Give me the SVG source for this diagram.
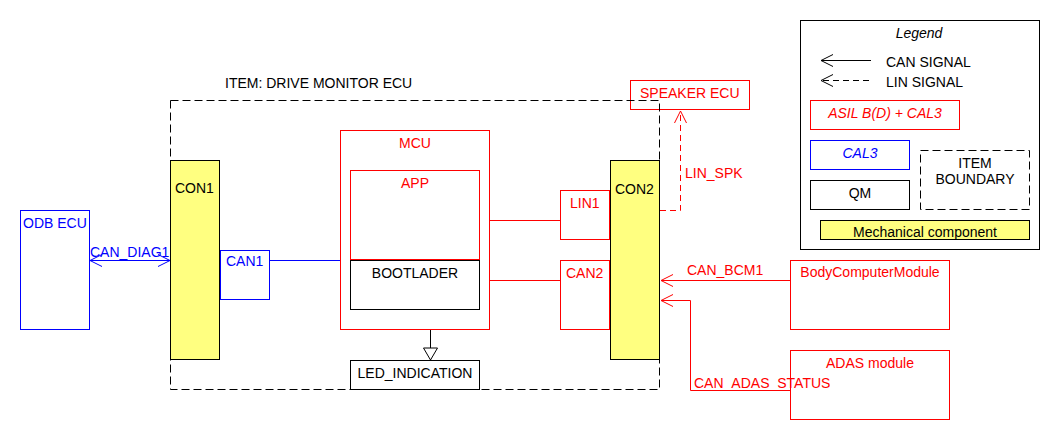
<svg xmlns="http://www.w3.org/2000/svg" width="1060" height="440" viewBox="0 0 1060 440">
<defs>
<style>
text{font-family:"Liberation Sans",Arial,sans-serif;font-size:14px}
.r{fill:#fff;stroke:#f00;stroke-width:1}
.b{fill:#fff;stroke:#00f;stroke-width:1}
.k{fill:#fff;stroke:#000;stroke-width:1}
.y{fill:#ffff80;stroke:#000;stroke-width:1}
.tr{fill:#f00}
.tb{fill:#00f}
.tk{fill:#000}
.c{text-anchor:middle}
.i{font-style:italic}
.bd{fill:none;stroke:#000;stroke-dasharray:8,4}
</style>
<marker id="ar" viewBox="-13 -7 14 14" refX="0" refY="0" markerWidth="14" markerHeight="14" markerUnits="userSpaceOnUse" orient="auto-start-reverse"><path d="M-12,-6 L0,0 L-12,6" fill="none" stroke="#f00" stroke-width="1"/></marker>
<marker id="ab" viewBox="-13 -7 14 14" refX="0" refY="0" markerWidth="14" markerHeight="14" markerUnits="userSpaceOnUse" orient="auto-start-reverse"><path d="M-12,-6 L0,0 L-12,6" fill="none" stroke="#00f" stroke-width="1"/></marker>
<marker id="ak" viewBox="-13 -7 14 14" refX="0" refY="0" markerWidth="14" markerHeight="14" markerUnits="userSpaceOnUse" orient="auto-start-reverse"><path d="M-12,-6 L0,0 L-12,6" fill="none" stroke="#000" stroke-width="1"/></marker>
<marker id="tri" viewBox="-13 -8 14 16" refX="0" refY="0" markerWidth="14" markerHeight="16" markerUnits="userSpaceOnUse" orient="auto"><path d="M0,0 L-12,-7 L-12,7 Z" fill="#fff" stroke="#000" stroke-width="1"/></marker>
</defs>
<rect width="1060" height="440" fill="#fff"/>

<g id="speaker-ecu">
<rect class="r" x="630.5" y="80.5" width="119" height="29"/>
<text class="tr" x="640" y="98">SPEAKER ECU</text>
</g>

<g id="item-boundary">
<rect class="bd" x="170.5" y="100.5" width="489" height="289"/>
<text class="tk" x="225" y="88">ITEM: DRIVE MONITOR ECU</text>
</g>

<g id="odb-ecu">
<rect class="b" x="20.5" y="210.5" width="69" height="119"/>
<text class="tb" x="23" y="228">ODB ECU</text>
</g>

<g id="con1">
<rect class="y" x="170.5" y="160.5" width="49" height="199"/>
<text class="tk" x="175" y="193">CON1</text>
</g>

<g id="can1">
<rect class="b" x="220.5" y="250.5" width="49" height="49"/>
<text class="tb" x="226" y="266">CAN1</text>
</g>

<g id="mcu">
<rect class="r" x="340.5" y="130.5" width="149" height="199"/>
<text class="tr c" x="415" y="148">MCU</text>
</g>

<g id="app">
<rect class="r" x="350.5" y="170.5" width="129" height="89"/>
<text class="tr c" x="415" y="188">APP</text>
</g>

<g id="bootlader">
<rect class="k" x="350.5" y="260.5" width="129" height="49"/>
<text class="tk c" x="415" y="278">BOOTLADER</text>
</g>

<g id="led-indication">
<rect class="k" x="350.5" y="360.5" width="129" height="29"/>
<text class="tk c" x="415" y="378">LED_INDICATION</text>
</g>

<g id="lin1">
<rect class="r" x="560.5" y="190.5" width="49" height="49"/>
<text class="tr" x="570" y="208">LIN1</text>
</g>

<g id="can2">
<rect class="r" x="560.5" y="260.5" width="49" height="69"/>
<text class="tr" x="566" y="278">CAN2</text>
</g>

<g id="con2">
<rect class="y" x="610.5" y="160.5" width="49" height="199"/>
<text class="tk" x="615" y="194">CON2</text>
</g>

<g id="bcm">
<rect class="r" x="790.5" y="260.5" width="159" height="69"/>
<text class="tr c" x="870" y="277">BodyComputerModule</text>
</g>

<g id="adas">
<rect class="r" x="790.5" y="350.5" width="159" height="69"/>
<text class="tr c" x="870" y="368">ADAS module</text>
</g>

<g id="connectors">
<line x1="90" y1="260.5" x2="170" y2="260.5" stroke="#00f" marker-start="url(#ab)" marker-end="url(#ab)"/>
<text class="tb" x="90" y="257">CAN_DIAG1</text>
<line x1="270" y1="260.5" x2="340" y2="260.5" stroke="#00f"/>
<line x1="490" y1="220.5" x2="560" y2="220.5" stroke="#f00"/>
<line x1="490" y1="280.5" x2="560" y2="280.5" stroke="#f00"/>
<line x1="430.5" y1="330" x2="430.5" y2="360" stroke="#000" marker-end="url(#tri)"/>
<path d="M660,210.5 H680.5 V111" fill="none" stroke="#f00" stroke-dasharray="6,4" marker-end="url(#ar)"/>
<text class="tr" x="685" y="178">LIN_SPK</text>
<line x1="790" y1="280.5" x2="661" y2="280.5" stroke="#f00" marker-end="url(#ar)"/>
<text class="tr" x="687" y="275">CAN_BCM1</text>
<path d="M790,390.5 H690.5 V300.5 H661" fill="none" stroke="#f00" marker-end="url(#ar)"/>
<text class="tr" x="694" y="388">CAN_ADAS_STATUS</text>
</g>

<g id="legend">
<rect class="k" x="800.5" y="20.5" width="239" height="229"/>
<text class="tk c i" x="919" y="38">Legend</text>
<line x1="871" y1="60.5" x2="821" y2="60.5" stroke="#000" marker-end="url(#ak)"/>
<text class="tk" x="886" y="67">CAN SIGNAL</text>
<line x1="869" y1="80.5" x2="821" y2="80.5" stroke="#000" stroke-dasharray="6,4" marker-end="url(#ak)"/>
<text class="tk" x="886" y="87">LIN SIGNAL</text>
<rect class="r" x="810.5" y="100.5" width="149" height="29"/>
<text class="tr c i" x="885" y="118">ASIL B(D) + CAL3</text>
<rect class="b" x="810.5" y="140.5" width="99" height="29"/>
<text class="tb c i" x="860" y="158">CAL3</text>
<rect class="k" x="810.5" y="180.5" width="99" height="29"/>
<text class="tk c" x="860" y="198">QM</text>
<rect class="bd" x="920.5" y="150.5" width="109" height="59"/>
<text class="tk c" x="975" y="168">ITEM</text>
<text class="tk c" x="975" y="184">BOUNDARY</text>
<rect class="y" x="820.5" y="220.5" width="209" height="19"/>
<text class="tk c" x="925" y="237">Mechanical component</text>
</g>
</svg>
